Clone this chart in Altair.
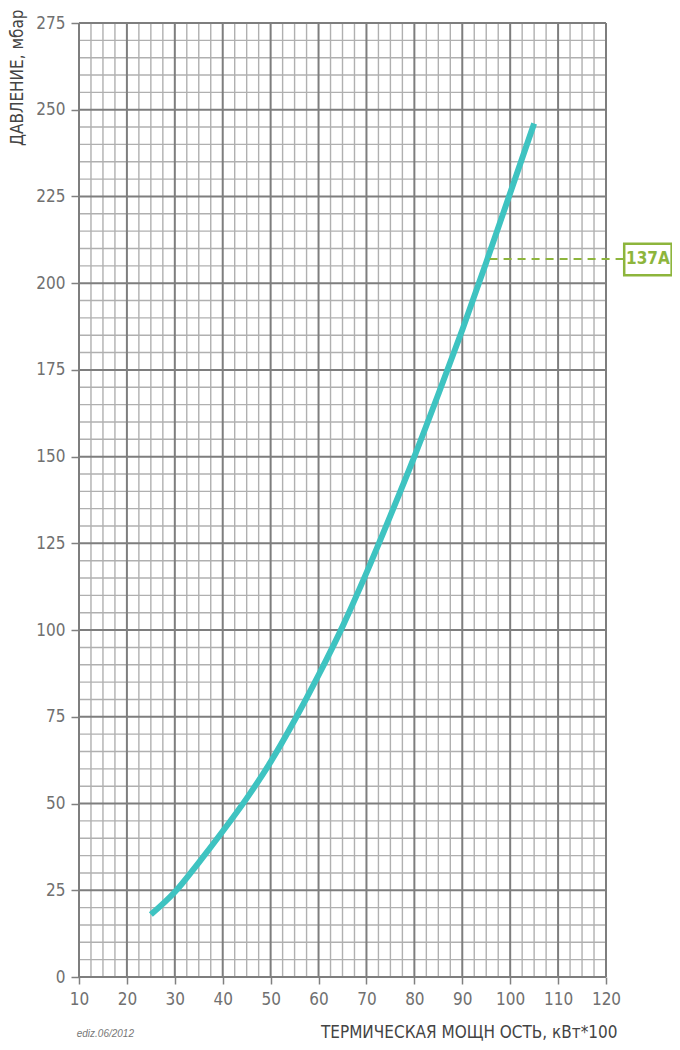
import altair as alt
import pandas as pd

# Curve: thermal power (kW*100) vs pressure (mbar)
power = [25, 30, 35, 40, 45, 50, 55, 60, 65, 70, 75, 80, 85, 90, 95, 100, 105]
pressure = [18, 24.5, 33, 42, 51.5, 62, 74, 87, 101, 116.5, 133, 150, 168, 186.5, 206, 226, 246]

# Axis ticks / grid lines
x_major = [10, 20, 30, 40, 50, 60, 70, 80, 90, 100, 110, 120]
y_major = [0, 25, 50, 75, 100, 125, 150, 175, 200, 225, 250, 275]
x_minor = [12.5, 15, 17.5, 22.5, 25, 27.5, 32.5, 35, 37.5, 42.5, 45, 47.5, 52.5, 55, 57.5,
           62.5, 65, 67.5, 72.5, 75, 77.5, 82.5, 85, 87.5, 92.5, 95, 97.5, 102.5, 105, 107.5,
           112.5, 115, 117.5]
y_minor = [v for v in range(0, 280, 5) if v % 25 != 0]

# Marker 137A
marker_label = ["137A"]
marker_y = [207]
marker_x_start = [95.7]
marker_x_end = [123.8]
box_x = [123.8]
box_x2 = [133.7]
box_y = [202.3]
box_y2 = [211.4]
label_x = [128.75]

note_text = ["ediz.06/2012"]
note_x = [15.5]
note_y = [-16.3]

FONT = "DejaVu Sans Condensed, sans-serif"
TEAL = "#3ec3c1"
GREEN = "#8db53c"

xs = alt.Scale(domain=[10, 120], nice=False, zero=False)
ys = alt.Scale(domain=[0, 275], nice=False, zero=False)

xaxis = alt.Axis(
    values=x_major, grid=False, domain=False, tickColor="#808080", tickSize=7, tickWidth=1.5,
    labelFont=FONT, labelFontSize=17, labelColor="#707070", labelPadding=7, labelFlush=False,
    title="ТЕРМИЧЕСКАЯ МОЩН ОСТЬ, кВт*100", titleFont=FONT, titleFontSize=17,
    titleFontWeight="normal", titleColor="#444444", titleAlign="right", titleAnchor="end",
    titleX=538, titleY=55, titleBaseline="middle",
)
yaxis = alt.Axis(
    values=y_major, grid=False, domain=False, tickColor="#808080", tickSize=8, tickWidth=1.5,
    labelFont=FONT, labelFontSize=17, labelColor="#707070", labelPadding=6, labelFlush=False,
    title="ДАВЛЕНИЕ, мбар", titleFont=FONT, titleFontSize=17, titleFontWeight="normal",
    titleColor="#444444", titleAngle=270, titleAlign="right", titleBaseline="middle",
    titleX=-62, titleY=-14,
)

X = lambda f: alt.X(f, type="quantitative", scale=xs, axis=xaxis)
Y = lambda f: alt.Y(f, type="quantitative", scale=ys, axis=yaxis)

minor_v = alt.Chart(pd.DataFrame({"x": x_minor})).mark_rule(
    color="#b0b0b0", strokeWidth=1.4).encode(x=X("x"))
minor_h = alt.Chart(pd.DataFrame({"y": y_minor})).mark_rule(
    color="#b0b0b0", strokeWidth=1.4).encode(y=Y("y"))
major_v = alt.Chart(pd.DataFrame({"x": x_major})).mark_rule(
    color="#7e7e7e", strokeWidth=2).encode(x=X("x"))
major_h = alt.Chart(pd.DataFrame({"y": y_major})).mark_rule(
    color="#7e7e7e", strokeWidth=2).encode(y=Y("y"))

curve = alt.Chart(pd.DataFrame({"x": power, "y": pressure})).mark_line(
    color=TEAL, strokeWidth=6, interpolate="monotone").encode(x=X("x"), y=Y("y"))

dash = alt.Chart(pd.DataFrame({"x": marker_x_start, "x2": marker_x_end, "y": marker_y})).mark_rule(
    color=GREEN, strokeWidth=2, strokeDash=[8, 6]).encode(x=X("x"), x2="x2", y=Y("y"))

box = alt.Chart(pd.DataFrame({"x": box_x, "x2": box_x2, "y": box_y, "y2": box_y2})).mark_rect(
    fill="white", stroke=GREEN, strokeWidth=2.5).encode(x=X("x"), x2="x2", y=Y("y"), y2="y2")

label = alt.Chart(pd.DataFrame({"x": label_x, "y": marker_y, "t": marker_label})).mark_text(
    color=GREEN, font=FONT, fontSize=17, fontWeight="bold", align="center", baseline="middle"
).encode(x=X("x"), y=Y("y"), text="t:N")

note = alt.Chart(pd.DataFrame({"x": note_x, "y": note_y, "t": note_text})).mark_text(
    color="#777777", font="Liberation Sans, sans-serif", fontSize=10, fontStyle="italic",
    align="center", baseline="middle"
).encode(x=X("x"), y=Y("y"), text="t:N")

chart = alt.layer(minor_v, minor_h, major_v, major_h, curve, dash, box, label, note).properties(
    width=527, height=954,
    autosize=alt.AutoSizeParams(type="none"),
    padding={"left": 71, "top": 15, "right": 66, "bottom": 64},
).configure_view(stroke=None)

chart.save("out.html", embed_options={"renderer": "svg", "actions": False})
